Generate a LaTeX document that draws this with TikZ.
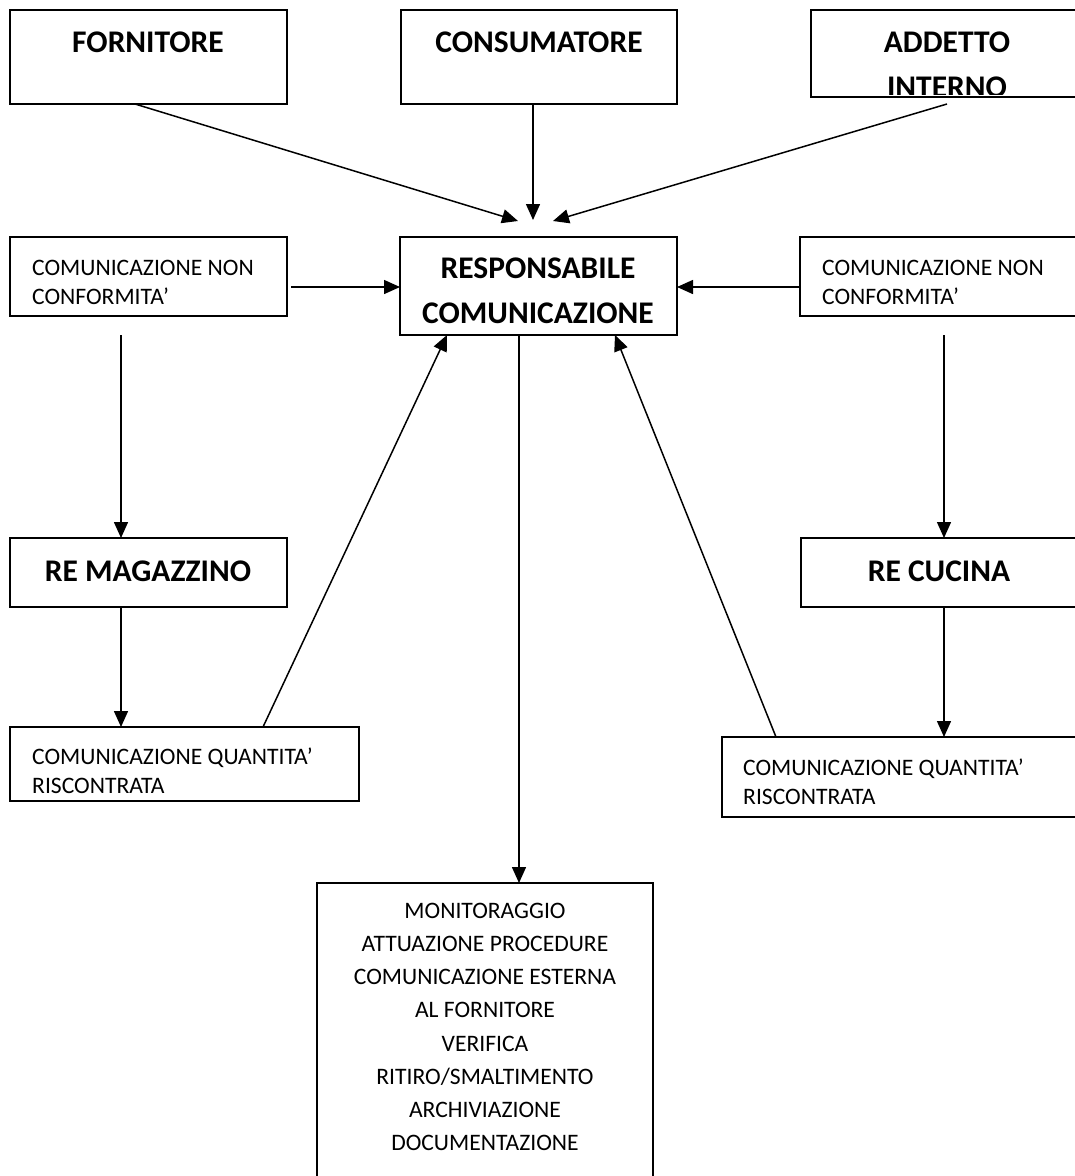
\documentclass[tikz,border=0pt]{standalone}
\usepackage{fontspec}
\setmainfont{Carlito}
\usetikzlibrary{arrows.meta,calc}
\begin{document}
\begin{tikzpicture}[x=1pt,y=-1pt,
  box/.style={draw,line width=1.8pt,anchor=north west,inner sep=0pt,outer sep=0pt},
  title/.style={font=\fontsize{31.5}{45}\selectfont\bfseries,align=center,inner sep=0pt},
  plain/.style={font=\fontsize{23.6}{29}\selectfont,align=left,inner sep=0pt,anchor=west},
  list/.style={font=\fontsize{23.6}{33.2}\selectfont,align=center,inner sep=0pt},
  conn/.style={line width=1.5pt,-{Triangle[length=16pt,width=14pt]}},
  link/.style={line width=1.2pt}]
\clip (0,0) rectangle (1075,1176);
\fill[white] (0,0) rectangle (1075,1176);

% boxes
\node[box,minimum width=277pt,minimum height=94pt] (forn) at (10,10) {};
\node[box,minimum width=276pt,minimum height=94pt] (cons) at (401,10) {};
\node[box,minimum width=280pt,minimum height=87pt] (add) at (811,10) {};
\node[box,minimum width=277pt,minimum height=98pt] (resp) at (400,237) {};
\node[box,minimum width=277pt,minimum height=79pt] (cncL) at (10,237) {};
\node[box,minimum width=290pt,minimum height=79pt] (cncR) at (800,237) {};
\node[box,minimum width=277pt,minimum height=69pt] (mag) at (10,538) {};
\node[box,minimum width=290pt,minimum height=69pt] (cuc) at (801,538) {};
\node[box,minimum width=349pt,minimum height=74pt] (cqL) at (10,727) {};
\node[box,minimum width=370pt,minimum height=80pt] (cqR) at (722,737) {};
\node[box,minimum width=336pt,minimum height=320pt] (mon) at (317,883) {};

% texts
\node[title] (tforn) at (148,42) {FORNITORE};
\node[title] (tcons) at (539,42) {CONSUMATORE};
\begin{scope}
\clip (812,11) rectangle (1075,94);
\node[title] (tadd) at (947,65) {ADDETTO\\INTERNO};
\end{scope}
\node[title] (tresp) at (538,291) {RESPONSABILE\\COMUNICAZIONE};
\node[plain] (tcncL) at (32,282) {COMUNICAZIONE NON\\CONFORMITA’};
\node[plain] (tcncR) at (822,282) {COMUNICAZIONE NON\\CONFORMITA’};
\node[title] (tmag) at (148,571) {RE MAGAZZINO};
\node[title] (tcuc) at (939,571) {RE CUCINA};
\node[plain] (tcqL) at (32,771) {COMUNICAZIONE QUANTITA’\\RISCONTRATA};
\node[plain] (tcqR) at (743,782) {COMUNICAZIONE QUANTITA’\\RISCONTRATA};
\node[list] (tmon) at (485,1027) {MONITORAGGIO\\ATTUAZIONE PROCEDURE\\COMUNICAZIONE ESTERNA\\AL FORNITORE\\VERIFICA\\RITIRO/SMALTIMENTO\\ARCHIVIAZIONE\\DOCUMENTAZIONE};

% free ends
\coordinate (inF) at (518,221);
\coordinate (inC) at (533,220);
\coordinate (inA) at (553,221);
\coordinate (sA) at (947,104);
\coordinate (sL) at (291,287);
\coordinate (sLd) at (121,335);
\coordinate (sRd) at (944,335);

% connectors
\draw[conn] ($(forn.south west)+(125,0)$) -- (inF);
\draw[conn] ($(cons.south west)+(132,0)$) -- (inC);
\draw[conn] (sA) -- (inA);
\draw[conn] (sL) -- (resp.west |- sL);
\draw[conn] (cncR.west |- sL) -- (resp.east |- sL);
\draw[conn] (sLd) -- (mag.north -| sLd);
\draw[conn] (mag.south -| sLd) -- (cqL.north -| sLd);
\draw[conn] ($(cqL.north west)+(253,0)$) -- ($(resp.south west)+(47,0)$);
\draw[conn] ($(resp.south west)+(119,0)$) -- (mon.north -| {$(resp.south west)+(119,0)$});
\draw[conn] (sRd) -- (cuc.north -| sRd);
\draw[conn] (cuc.south -| sRd) -- (cqR.north -| sRd);
\draw[conn] ($(cqR.north west)+(54,0)$) -- ($(resp.south west)+(215,0)$);
\end{tikzpicture}
\end{document}
